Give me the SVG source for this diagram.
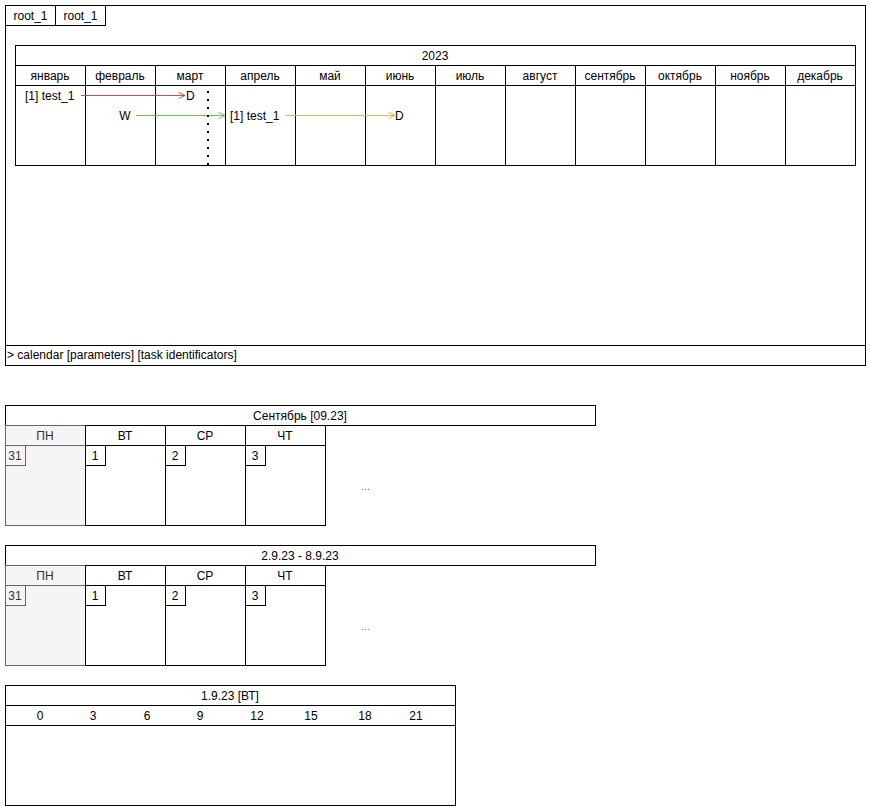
<svg xmlns="http://www.w3.org/2000/svg" width="871" height="811" viewBox="0 0 871 811">
<defs>
<style>
text{font-family:"Liberation Sans",Arial,sans-serif;font-size:12px;fill:#000}
.c{text-anchor:middle}
.b{fill:#fff;stroke:#000;stroke-width:1}
.g{fill:#f5f5f5;stroke:#666;stroke-width:1}
.gt{fill:#333}
.el{font-size:10px;fill:#666}
</style>
<marker id="ar" viewBox="0 0 10 10" refX="9" refY="5" markerWidth="8" markerHeight="8" markerUnits="userSpaceOnUse" orient="auto"><path d="M1 1 L9 5 L1 9" fill="none" stroke="#b85450" stroke-width="1.2"/></marker>
<marker id="ag" viewBox="0 0 10 10" refX="9" refY="5" markerWidth="8" markerHeight="8" markerUnits="userSpaceOnUse" orient="auto"><path d="M1 1 L9 5 L1 9" fill="none" stroke="#82b366" stroke-width="1.2"/></marker>
<marker id="ay" viewBox="0 0 10 10" refX="9" refY="5" markerWidth="8" markerHeight="8" markerUnits="userSpaceOnUse" orient="auto"><path d="M1 1 L9 5 L1 9" fill="none" stroke="#d6b656" stroke-width="1.2"/></marker>
</defs>
<rect width="871" height="811" fill="#fff"/>

<g id="frame">
<rect class="b" x="5.5" y="5.5" width="860" height="360"/>
<line x1="5.5" y1="345.5" x2="865.5" y2="345.5" stroke="#000"/>
<text x="7" y="359">&gt; calendar [parameters] [task identificators]</text>
</g>
<g id="tab1"><rect class="b" x="5.5" y="5.5" width="50" height="20"/><text class="c" x="30.5" y="20">root_1</text></g>
<g id="tab2"><rect class="b" x="55.5" y="5.5" width="50" height="20"/><text class="c" x="80.5" y="20">root_1</text></g>

<g id="year">
<rect class="b" x="15.5" y="45.5" width="840" height="120"/>
<line x1="15.5" y1="65.5" x2="855.5" y2="65.5" stroke="#000"/>
<line x1="15.5" y1="85.5" x2="855.5" y2="85.5" stroke="#000"/>
<text class="c" x="435" y="60">2023</text>
<g stroke="#000">
<line x1="85.5" y1="65.5" x2="85.5" y2="165.5"/>
<line x1="155.5" y1="65.5" x2="155.5" y2="165.5"/>
<line x1="225.5" y1="65.5" x2="225.5" y2="165.5"/>
<line x1="295.5" y1="65.5" x2="295.5" y2="165.5"/>
<line x1="365.5" y1="65.5" x2="365.5" y2="165.5"/>
<line x1="435.5" y1="65.5" x2="435.5" y2="165.5"/>
<line x1="505.5" y1="65.5" x2="505.5" y2="165.5"/>
<line x1="575.5" y1="65.5" x2="575.5" y2="165.5"/>
<line x1="645.5" y1="65.5" x2="645.5" y2="165.5"/>
<line x1="715.5" y1="65.5" x2="715.5" y2="165.5"/>
<line x1="785.5" y1="65.5" x2="785.5" y2="165.5"/>
</g>
<text class="c" x="50" y="80">январь</text>
<text class="c" x="120" y="80">февраль</text>
<text class="c" x="190" y="80">март</text>
<text class="c" x="260" y="80">апрель</text>
<text class="c" x="330" y="80">май</text>
<text class="c" x="400" y="80">июнь</text>
<text class="c" x="470" y="80">июль</text>
<text class="c" x="540" y="80">август</text>
<text class="c" x="610" y="80">сентябрь</text>
<text class="c" x="680" y="80">октябрь</text>
<text class="c" x="750" y="80">ноябрь</text>
<text class="c" x="820" y="80">декабрь</text>
</g>

<g id="task1">
<text x="25" y="100">[1] test_1</text>
<text x="186" y="100">D</text>
</g>
<g id="task2">
<text class="c" x="125" y="120">W</text>
<text x="230" y="120">[1] test_1</text>
<text x="395" y="120">D</text>
</g>
<g id="connectors">
<line x1="81" y1="95.5" x2="185" y2="95.5" stroke="#b85450" marker-end="url(#ar)"/>
<line x1="136" y1="115.5" x2="225" y2="115.5" stroke="#82b366" marker-end="url(#ag)"/>
<line x1="286" y1="115.5" x2="395" y2="115.5" stroke="#d6b656" marker-end="url(#ay)"/>
</g>
<g id="today">
<line x1="208" y1="91" x2="208" y2="167" stroke="#000" stroke-width="2" stroke-dasharray="2 6"/>
</g>

<g id="month">
<rect class="b" x="5.5" y="405.5" width="590" height="20"/>
<text class="c" x="300" y="420">Сентябрь [09.23]</text>
<rect class="g" x="5.5" y="425.5" width="80" height="20"/>
<text class="c gt" x="45" y="440">ПН</text>
<rect class="g" x="5.5" y="445.5" width="80" height="80"/>
<rect class="g" x="5.5" y="445.5" width="20" height="20"/>
<text class="c gt" x="15" y="460">31</text>
<rect class="b" x="85.5" y="425.5" width="80" height="20"/>
<text class="c" x="125" y="440">ВТ</text>
<rect class="b" x="85.5" y="445.5" width="80" height="80"/>
<rect class="b" x="85.5" y="445.5" width="20" height="20"/>
<text class="c" x="95" y="460">1</text>
<rect class="b" x="165.5" y="425.5" width="80" height="20"/>
<text class="c" x="205" y="440">СР</text>
<rect class="b" x="165.5" y="445.5" width="80" height="80"/>
<rect class="b" x="165.5" y="445.5" width="20" height="20"/>
<text class="c" x="175" y="460">2</text>
<rect class="b" x="245.5" y="425.5" width="80" height="20"/>
<text class="c" x="285" y="440">ЧТ</text>
<rect class="b" x="245.5" y="445.5" width="80" height="80"/>
<rect class="b" x="245.5" y="445.5" width="20" height="20"/>
<text class="c" x="255" y="460">3</text>
<text class="c el" x="365.5" y="490">...</text>
</g>

<g id="week">
<rect class="b" x="5.5" y="545.5" width="590" height="20"/>
<text class="c" x="300" y="560">2.9.23 - 8.9.23</text>
<rect class="g" x="5.5" y="565.5" width="80" height="20"/>
<text class="c gt" x="45" y="580">ПН</text>
<rect class="g" x="5.5" y="585.5" width="80" height="80"/>
<rect class="g" x="5.5" y="585.5" width="20" height="20"/>
<text class="c gt" x="15" y="600">31</text>
<rect class="b" x="85.5" y="565.5" width="80" height="20"/>
<text class="c" x="125" y="580">ВТ</text>
<rect class="b" x="85.5" y="585.5" width="80" height="80"/>
<rect class="b" x="85.5" y="585.5" width="20" height="20"/>
<text class="c" x="95" y="600">1</text>
<rect class="b" x="165.5" y="565.5" width="80" height="20"/>
<text class="c" x="205" y="580">СР</text>
<rect class="b" x="165.5" y="585.5" width="80" height="80"/>
<rect class="b" x="165.5" y="585.5" width="20" height="20"/>
<text class="c" x="175" y="600">2</text>
<rect class="b" x="245.5" y="565.5" width="80" height="20"/>
<text class="c" x="285" y="580">ЧТ</text>
<rect class="b" x="245.5" y="585.5" width="80" height="80"/>
<rect class="b" x="245.5" y="585.5" width="20" height="20"/>
<text class="c" x="255" y="600">3</text>
<text class="c el" x="365.5" y="630">...</text>
</g>

<g id="day">
<rect class="b" x="5.5" y="685.5" width="450" height="120"/>
<line x1="5.5" y1="705.5" x2="455.5" y2="705.5" stroke="#000"/>
<line x1="5.5" y1="725.5" x2="455.5" y2="725.5" stroke="#000"/>
<text class="c" x="230" y="700">1.9.23 [ВТ]</text>
<text class="c" x="40" y="720">0</text>
<text class="c" x="93" y="720">3</text>
<text class="c" x="147" y="720">6</text>
<text class="c" x="200" y="720">9</text>
<text class="c" x="257" y="720">12</text>
<text class="c" x="311" y="720">15</text>
<text class="c" x="365" y="720">18</text>
<text class="c" x="416" y="720">21</text>
</g>
</svg>
